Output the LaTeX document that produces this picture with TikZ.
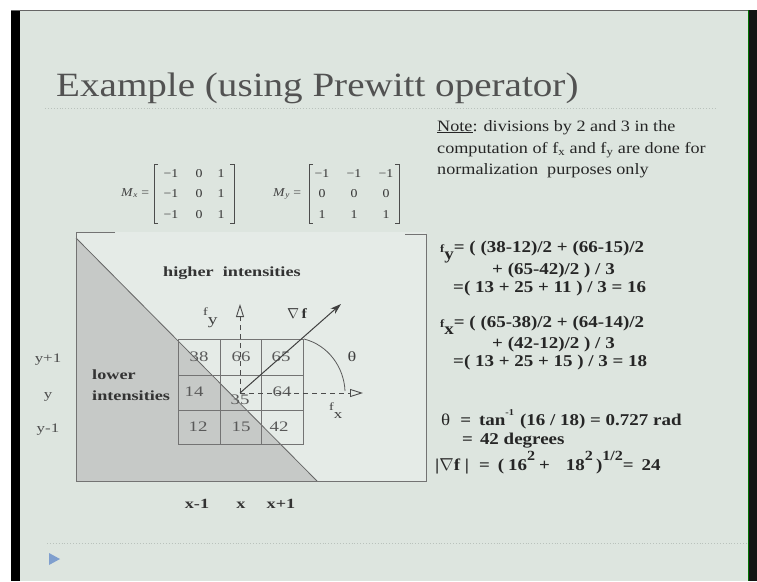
\documentclass[tikz,border=0pt]{standalone}
\usepackage{fontspec}
\setmainfont[FakeStretch=1.15]{Liberation Serif}
\newfontfamily\figfont[FakeStretch=1.3]{Liberation Serif}
\usetikzlibrary{arrows.meta}
\definecolor{slidebg}{HTML}{DDE5DF}
\definecolor{boxbg}{HTML}{E5EBE7}
\definecolor{shadefill}{HTML}{C6C9C7}
\definecolor{dotc}{HTML}{B9C2BC}
\definecolor{bluetri}{HTML}{7F9FCE}
\newcommand{\supr}[1]{\raisebox{0.55em}{\fontsize{9}{9}\selectfont #1}}
\tikzset{
  txt/.style={inner sep=0pt, anchor=base west},
  ctxt/.style={inner sep=0pt, anchor=base},
  eq/.style={txt, font=\fontsize{16.5}{16.5}\selectfont\bfseries, text=black!85},
  note/.style={txt, font=\fontsize{15.8}{15.8}\selectfont, text=black!85},
  mat/.style={ctxt, font=\fontsize{12}{12}\selectfont, text=black!80},
  num/.style={inner sep=0pt, font=\figfont\fontsize{14.5}{14.5}\selectfont, text=black!65},
  lab/.style={inner sep=0pt, anchor=base, font=\figfont\fontsize{13}{13}\selectfont, text=black!70},
  blab/.style={inner sep=0pt, font=\figfont\fontsize{14}{14}\selectfont\bfseries, text=black!80},
  frameline/.style={draw=black!55, line width=0.9pt},
  gridline/.style={draw=black!55, line width=0.7pt},
  brack/.style={draw=black!70, line width=0.9pt},
  dash5/.style={dash pattern=on 5pt off 4pt, draw=black!70, line width=0.9pt},
  opentip/.style={-{Triangle[open,length=13pt,width=8pt]}},
}
\begin{document}
\begin{tikzpicture}[x=1pt,y=-1pt]
\useasboundingbox (0,0) rectangle (757,581);
% slide background and borders
\fill[white] (0,0) rectangle (757,581);
\fill[slidebg] (20,10) rectangle (748,581);
\fill[black] (11,10) rectangle (20,581);
\fill[black!92] (748,10) rectangle (757,581);
\draw[black!60, line width=1pt] (11,10.5) -- (748,10.5);
\draw[green!45!black, line width=0.7pt] (748.3,10) -- (748.3,581);

% title
\node[txt, font=\fontsize{34}{34}\selectfont, text=black!68] (title) at (56,96) {Example (using Prewitt operator)};
\draw[dotted, dotc, line width=0.9pt] (45,108) -- (715,108);
\draw[dotted, dotc, line width=0.9pt] (47,543) -- (748,543);
\fill[bluetri] (49,553) -- (60,559) -- (49,565) -- cycle;

% note
\node[note] (note1) at (437,131) {\underline{Note}: divisions by 2 and 3 in the};
\node[note] (note2) at (437,153) {computation of f\textsubscript{x} and f\textsubscript{y} are done for};
\node[note] (note3) at (437,174) {normalization\ \ purposes only};

% matrices
\node[txt, font=\fontsize{12}{12}\selectfont, text=black!75] (mxl) at (121,196) {\textit{M}\textsubscript{\textit{x}} =};
\draw[brack] (158,164) -- (154,164) -- (154,223) -- (158,223);
\draw[brack] (230,164) -- (234,164) -- (234,223) -- (230,223);
\node[mat] (a11) at (171,177) {−1}; \node[mat] (a12) at (199,177) {0}; \node[mat] (a13) at (221,177) {1};
\node[mat] (a21) at (171,197) {−1}; \node[mat] (a22) at (199,197) {0}; \node[mat] (a23) at (221,197) {1};
\node[mat] (a31) at (171,218) {−1}; \node[mat] (a32) at (199,218) {0}; \node[mat] (a33) at (221,218) {1};
\node[txt, font=\fontsize{12}{12}\selectfont, text=black!75] (myl) at (273,196) {\textit{M}\textsubscript{\textit{y}} =};
\draw[brack] (313,164) -- (309,164) -- (309,223) -- (313,223);
\draw[brack] (395,164) -- (399,164) -- (399,223) -- (395,223);
\node[mat] (b11) at (322,177) {−1}; \node[mat] (b12) at (354,177) {−1}; \node[mat] (b13) at (386,177) {−1};
\node[mat] (b21) at (322,197) {0}; \node[mat] (b22) at (354,197) {0}; \node[mat] (b23) at (386,197) {0};
\node[mat] (b31) at (322,218) {1}; \node[mat] (b32) at (354,218) {1}; \node[mat] (b33) at (386,218) {1};

% figure frame
\fill[boxbg] (76,232) rectangle (426,481);
\fill[shadefill] (76,238) -- (317,481) -- (76,481) -- cycle;
\draw[black!60, line width=0.8pt] (76,238) -- (317,481);
\draw[frameline] (115,232) -- (76,232) -- (76,481) -- (426,481) -- (426,234) -- (405,234);

% grid
\draw[gridline] (178,339) rectangle (303,444);
\draw[gridline] (220,339) -- (220,444) (261,339) -- (261,444);
\draw[gridline] (178,375) -- (303,375) (178,410) -- (303,410);
\node[num] (c11) at (199,357) {38};
\node[num] (c12) at (241,357) {66};
\node[num] (c13) at (281,357) {65};
\node[num] (c21) at (194,392) {14};
\node[num] (c22) at (240,400) {35};
\node[num] (c23) at (282,392) {64};
\node[num] (c31) at (198,427) {12};
\node[num] (c32) at (241,427) {15};
\node[num] (c33) at (279,427) {42};

% labels
\node[blab, anchor=base west] (hi) at (163,276) {higher\ \ intensities};
\node[blab, anchor=base west] (lo1) at (92,379) {lower};
\node[blab, anchor=base west] (lo2) at (92,400) {intensities};
\node[lab] (r1) at (48,362) {y+1};
\node[lab] (r2) at (48,398) {y};
\node[lab] (r3) at (48,432) {y-1};
\node[blab, anchor=base] (k1) at (197,508) {x-1};
\node[blab, anchor=base] (k2) at (241,508) {x};
\node[blab, anchor=base] (k3) at (281,508) {x+1};

% arrows
\coordinate (o) at (240,393);
\coordinate (fyend) at (240,304);
\coordinate (fxend) at (363,393);
\coordinate (gend) at (341,304);
\coordinate (thA) at (304,339);
\coordinate (thB) at (345,391);
\draw[dash5, opentip] (o) -- (fyend);
\draw[dash5, opentip] (o) -- (fxend);
\draw[black!75, line width=1pt, -{Stealth[length=11pt,width=7pt]}] (o) -- (gend);
\draw[black!65, line width=0.8pt] (thA) .. controls (328,345) and (344,367) .. (thB);
\node[inner sep=0pt, anchor=base west, text=black!75] (fylab) at (203,315) {\figfont\fontsize{11}{11}\selectfont f\raisebox{-9pt}{\fontsize{15}{15}\selectfont y}};
\node[inner sep=0pt, anchor=base west, text=black!75] (fxlab) at (329,410) {\figfont\fontsize{11}{11}\selectfont f\raisebox{-8pt}{\fontsize{13}{13}\selectfont x}};
\node[inner sep=0pt, anchor=base west, text=black!80] (glab) at (287,318) {\fontsize{14}{14}\selectfont$\nabla$\,\textbf{f}};
\node[inner sep=0pt, text=black!75] (thlab) at (352,357) {\figfont\fontsize{14}{14}\selectfont θ};

% equations
\node[eq] (e1) at (440,252) {{\fontsize{11}{11}\selectfont f}\raisebox{-7pt}{y}= ( (38-12)/2 + (66-15)/2};
\node[eq] (e2) at (492,274) {+ (65-42)/2 ) / 3};
\node[eq] (e3) at (453,292) {=( 13 + 25 + 11 ) / 3 = 16};
\node[eq] (e4) at (440,327) {{\fontsize{11}{11}\selectfont f}\raisebox{-7pt}{x}= ( (65-38)/2 + (64-14)/2};
\node[eq] (e5) at (492,348) {+ (42-12)/2 ) / 3};
\node[eq] (e6) at (453,366) {=( 13 + 25 + 15 ) / 3 = 18};
\node[eq] (e7) at (441,425) {{\mdseries θ}\hspace{10pt}=\hspace{8pt}tan\supr{-1}\hspace{6pt}(16 / 18) = 0.727 rad};
\node[eq] (e8) at (462,444) {=\hspace{7pt}42 degrees};
\node[eq] (e9) at (435,470) {|$\nabla$f |\hspace{10pt}=\hspace{8pt}(\hspace{4pt}16\supr{\fontsize{14}{14}\selectfont 2}\hspace{4pt}+\hspace{16pt}18\supr{\fontsize{14}{14}\selectfont 2}\hspace{3pt})\supr{\fontsize{14}{14}\selectfont 1/2}=\hspace{8pt}24};
\end{tikzpicture}
\end{document}
